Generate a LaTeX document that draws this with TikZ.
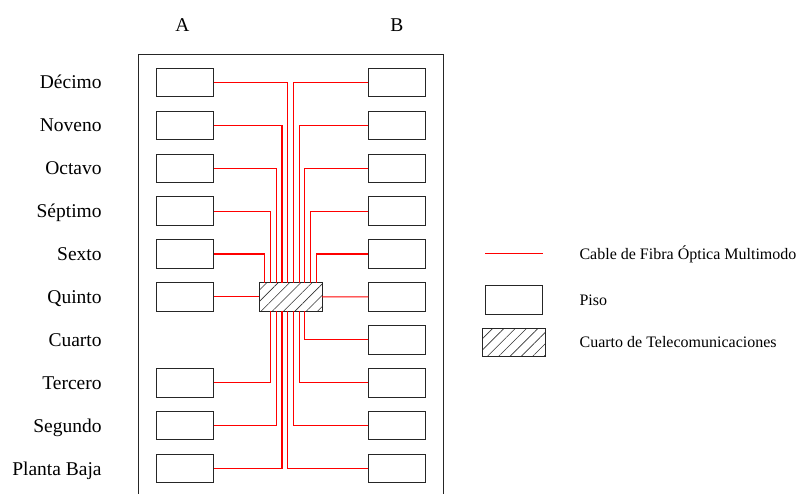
\documentclass[tikz,border=0pt]{standalone}
\usepackage{fontspec}
\setmainfont{Liberation Serif}
\usetikzlibrary{positioning,patterns.meta}
\tikzset{
  fpbox/.style={
    rectangle, draw=black!85, line width=0.8pt,
    minimum width=57pt, minimum height=28.5pt, inner sep=0pt, outer sep=0pt
  },
  fproom/.style={fpbox, minimum width=63pt, minimum height=28.4pt,
    pattern={Lines[angle=45,distance=8pt,line width=0.6pt]}, pattern color=black!80},
  fpcable/.style={draw=red, line width=1.1pt},
  fpwall/.style={draw=black!85, line width=0.8pt},
  fplabel/.style={font=\fontsize{19.5}{22}\selectfont, inner sep=0pt,
    text height=17.5pt, text depth=4.3pt},
  fpkey/.style={font=\fontsize{16}{19}\selectfont, inner sep=0pt,
    text height=14.4pt, text depth=3.5pt, anchor=west},
}
\begin{document}
\begin{tikzpicture}[node distance=14.4pt and 154.6pt]
  \useasboundingbox (0,0) rectangle (798pt,493pt);
  \clip (0,0) rectangle (798pt,493pt);
  % column A
  \node (a0) [fpbox] at (185.3pt,24.5pt) {};
  \node (a1) [fpbox, above=of a0] {};
  \node (a2) [fpbox, above=of a1] {};
  \node (a4) [fpbox, above=57.3pt of a2] {};
  \node (a5) [fpbox, above=of a4] {};
  \node (a6) [fpbox, above=of a5] {};
  \node (a7) [fpbox, above=of a6] {};
  \node (a8) [fpbox, above=of a7] {};
  \node (a9) [fpbox, above=of a8] {};
  % column B
  \node (b0) [fpbox, right=of a0] {};
  \node (b1) [fpbox, above=of b0] {};
  \node (b2) [fpbox, above=of b1] {};
  \node (b3) [fpbox, above=of b2] {};
  \node (b4) [fpbox, above=of b3] {};
  \node (b5) [fpbox, above=of b4] {};
  \node (b6) [fpbox, above=of b5] {};
  \node (b7) [fpbox, above=of b6] {};
  \node (b8) [fpbox, above=of b7] {};
  \node (b9) [fpbox, above=of b8] {};
  % floor names
  \node (l0) [fplabel, left=55pt of a0] {Planta Baja};
  \node (l1) [fplabel, left=55pt of a1] {Segundo};
  \node (l2) [fplabel, left=55pt of a2] {Tercero};
  \node (l3) [fplabel, anchor=east] at ([yshift=42.9pt]l2.east) {Cuarto};
  \node (l4) [fplabel, left=55pt of a4] {Quinto};
  \node (l5) [fplabel, left=55pt of a5] {Sexto};
  \node (l6) [fplabel, left=55pt of a6] {Séptimo};
  \node (l7) [fplabel, left=55pt of a7] {Octavo};
  \node (l8) [fplabel, left=55pt of a8] {Noveno};
  \node (l9) [fplabel, left=55pt of a9] {Décimo};
  \node (ha) [fplabel, above=31.8pt of a9, xshift=-3pt] {A};
  \node (hb) [fplabel, above=31.8pt of b9] {B};
  % building outline
  \draw[fpwall] ([xshift=-18pt,yshift=-60pt]a0.west) |- ([xshift=18pt,yshift=14pt]b9.north east)
    -- ([xshift=18pt,yshift=-60pt]b0.east);
  % telecom room and cables
  \node (tr) [fproom, right=45.3pt of a4] {};
  \draw[fpcable] (a4) -- (tr); \draw[fpcable] (tr) -- (b4);
  \draw[fpcable] (a5.east) -| ([xshift=-25.8pt]tr.north); \draw[fpcable] (b5.west) -| ([xshift=25.8pt]tr.north);
  \draw[fpcable] (a6.east) -| ([xshift=-20.1pt]tr.north); \draw[fpcable] (b6.west) -| ([xshift=20.1pt]tr.north);
  \draw[fpcable] (a7.east) -| ([xshift=-14.3pt]tr.north); \draw[fpcable] (b7.west) -| ([xshift=14.3pt]tr.north);
  \draw[fpcable] (a8.east) -| ([xshift=-8.6pt]tr.north); \draw[fpcable] (b8.west) -| ([xshift=8.6pt]tr.north);
  \draw[fpcable] (a9.east) -| ([xshift=-2.9pt]tr.north); \draw[fpcable] (b9.west) -| ([xshift=2.9pt]tr.north);
  \draw[fpcable] (a2.east) -| ([xshift=-20.1pt]tr.south); \draw[fpcable] (b3.west) -| ([xshift=14.3pt]tr.south);
  \draw[fpcable] (a1.east) -| ([xshift=-14.3pt]tr.south); \draw[fpcable] (b2.west) -| ([xshift=8.6pt]tr.south);
  \draw[fpcable] (a0.east) -| ([xshift=-8.6pt]tr.south); \draw[fpcable] (b1.west) -| ([xshift=2.9pt]tr.south);
  \draw[fpcable] (b0.west) -| ([xshift=-2.9pt]tr.south);
  % legend
  \node (kpiso) [fpbox, minimum width=57.7pt] at (513.9pt,193.2pt) {};
  \node (ktel) [fproom, below=14.3pt of kpiso] {};
  \coordinate (kc1) at ([yshift=45.9pt]kpiso.west);
  \coordinate (kc2) at ([yshift=45.9pt]kpiso.east);
  \draw[fpcable] (kc1) -- (kc2);
  \node (tc) [fpkey, right=36.6pt of kc2] {Cable de Fibra Óptica Multimodo};
  \node (tp) [fpkey, right=36.6pt of kpiso] {Piso};
  \node (tt) [fpkey, right=34pt of ktel] {Cuarto de Telecomunicaciones};
\end{tikzpicture}
\end{document}
